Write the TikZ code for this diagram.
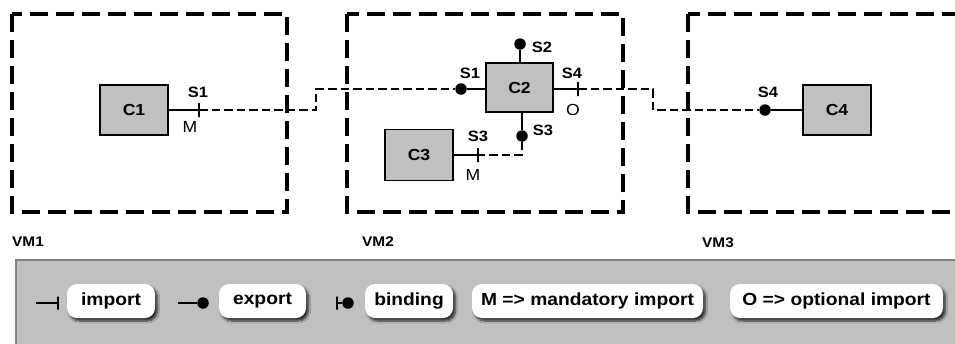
\documentclass[tikz,border=0pt]{standalone}
\usepackage{fontspec}
\setmainfont{Liberation Sans}
\newfontfamily\wide[FakeStretch=1.1]{Liberation Sans}
\usetikzlibrary{shadows.blur}
\definecolor{compgray}{HTML}{C0C0C0}
\definecolor{legborder}{HTML}{808080}
\begin{document}
\begin{tikzpicture}[x=1pt,y=-1pt,
  vm/.style={draw, line width=3.4pt, dash pattern=on 18pt off 8pt},
  comp/.style={draw, line width=1.6pt, fill=compgray, minimum width=68pt, minimum height=50pt, inner sep=0pt,
    font=\wide\bfseries\fontsize{16}{18}\selectfont},
  tick/.style={draw, line width=1.5pt, minimum width=0pt, minimum height=14pt, inner sep=0pt, outer sep=0pt},
  dot/.style={circle, fill=black, inner sep=0pt, minimum size=11.5pt},
  port/.style={line width=1.5pt},
  conn/.style={line width=1.3pt, dash pattern=on 8.5pt off 4pt},
  lbl/.style={font=\wide\bfseries\fontsize{15}{17}\selectfont, inner sep=0pt},
  opt/.style={font=\wide\fontsize{16}{18}\selectfont, inner sep=0pt},
  vmlbl/.style={font=\wide\bfseries\fontsize{14}{16}\selectfont, inner sep=0pt, anchor=west},
  pill/.style={fill=white, rounded corners=10pt, minimum height=34pt, inner sep=0pt,
    font=\wide\bfseries\fontsize{17.5}{20}\selectfont,
    blur shadow={shadow xshift=2.5pt, shadow yshift=-3pt, shadow blur steps=6, shadow opacity=75}}
]
\useasboundingbox (0,0) rectangle (955,343);
\begin{scope}
\clip (0,0) rectangle (955,343);
% VM boxes
\draw[vm] (12,14) rectangle (287,212);
\draw[vm] (347,14) rectangle (623,212);
\draw[vm] (688,14) rectangle (990,212);
\node[vmlbl] (vm1) at (12,242) {VM1};
\node[vmlbl] (vm2) at (362,242) {VM2};
\node[vmlbl] (vm3) at (702,243) {VM3};

% components
\node[comp] (C1) at (134,110) {C1};
\node[comp, minimum width=67pt, minimum height=49pt] (C2) at (519.5,87.5) {C2};
\node[comp, minimum height=51pt] (C3) at (419,155) {C3};
\node[comp] (C4) at (837,110) {C4};

% ports
\node[tick] (t1) at (199,110) {};
\draw[port] (C1.east) -- (t1.center);
\node[dot] (e1) at (461,89) {};
\draw[port] (C2.west |- e1) -- (e1);
\node[dot] (e2) at (520,44) {};
\draw[port] (C2.north -| e2) -- (e2);
\node[tick] (t4) at (578,89) {};
\draw[port] (C2.east |- t4) -- (t4.center);
\node[dot] (e3) at (522,136) {};
\draw[port] (C2.south -| e3) -- (e3);
\node[tick] (t3) at (478,155) {};
\draw[port] (C3.east) -- (t3.center);
\node[dot] (e4) at (765,110) {};
\draw[port] (e4) -- (C4.west);

% connectors
\draw[conn] (t1.center) -- ++(117,0) |- (e1);
\draw[conn] (t4.center) -- ++(75,0) |- (e4);
\draw[conn] (e3) |- (t3.center);

% labels
\node[lbl] (l1) at (198,92) {S1};
\node[opt] (m1) at (190,127) {M};
\node[lbl] (l2) at (470,73) {S1};
\node[lbl] (l3) at (542,47) {S2};
\node[lbl] (l4) at (572,73) {S4};
\node[opt] (o1) at (573,110) {O};
\node[lbl] (l5) at (543,130) {S3};
\node[lbl] (l6) at (478,136) {S3};
\node[opt] (m2) at (473,175) {M};
\node[lbl] (l7) at (768,92) {S4};

% legend
\draw[fill=compgray, draw=legborder, line width=1.8pt] (16,260) rectangle (975,360);
\node[pill, minimum width=88pt] (p1) at (111,301) {import};
\node[pill, minimum width=87pt] (p2) at (262.5,301) {export};
\node[pill, minimum width=88pt] (p3) at (409,301) {binding};
\node[pill, minimum width=231pt] (p4) at (587.5,301) {M => mandatory import};
\node[pill, minimum width=213pt] (p5) at (836.5,301) {O => optional import};

\coordinate (a1) at (36,303);
\node[tick, minimum height=13pt, line width=1.2pt] (at1) at (58,303) {};
\draw[line width=1.2pt] (a1) -- (at1.center);
\coordinate (a2) at (178,303);
\node[dot] (ad2) at (203,303) {};
\draw[line width=1.2pt] (a2) -- (ad2);
\node[tick, minimum height=13pt, line width=1.2pt] (at3) at (337,303) {};
\node[dot] (ad3) at (348,303) {};
\draw[line width=1.2pt] (at3.center) -- (ad3);
\end{scope}
\end{tikzpicture}
\end{document}
